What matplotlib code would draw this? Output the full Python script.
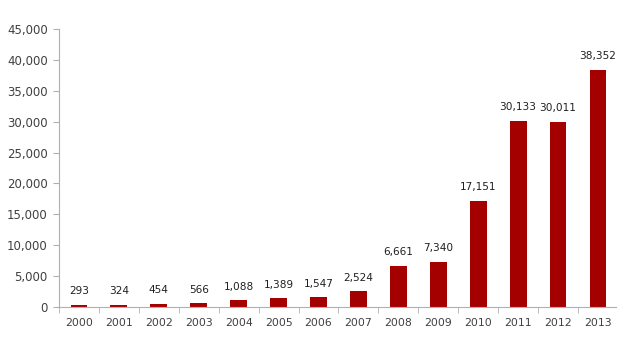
import matplotlib
matplotlib.use("Agg")
from matplotlib import pyplot as plt
from matplotlib.ticker import FuncFormatter, FixedLocator

years = ["2000", "2001", "2002", "2003", "2004", "2005", "2006",
         "2007", "2008", "2009", "2010", "2011", "2012", "2013"]
values = [293, 324, 454, 566, 1088, 1389, 1547,
          2524, 6661, 7340, 17151, 30133, 30011, 38352]

bar_color = "#a50000"
axis_color = "#b0b0b0"
text_color = "#404040"

fig = plt.figure(figsize=(6.17, 3.38), dpi=100)
ax = fig.add_axes([0.0956, 0.092, 0.906, 0.822])

x = list(range(len(years)))
ax.bar(x, values, width=0.42, color=bar_color, zorder=2)

for xi, v in zip(x, values):
    ax.text(xi, v + 1400, f"{v:,}", ha="center", va="bottom",
            fontsize=7.6, color="#202020")

ax.set_xlim(-0.5, len(years) - 0.5)
ax.set_ylim(0, 45000)
ax.set_yticks(range(0, 45001, 5000))
ax.yaxis.set_major_formatter(FuncFormatter(lambda v, p: f"{int(v):,}"))

ax.set_xticks(x)
ax.set_xticklabels(years)
ax.xaxis.set_minor_locator(FixedLocator([i - 0.5 for i in range(len(years) + 1)]))
ax.tick_params(axis="x", which="major", length=0, pad=8, labelsize=7.8, labelcolor=text_color)
ax.tick_params(axis="x", which="minor", length=4, color=axis_color, direction="out")
ax.tick_params(axis="y", length=4, color=axis_color, labelsize=8.5, labelcolor=text_color, pad=4)

for side in ["top", "right"]:
    ax.spines[side].set_visible(False)
ax.spines["left"].set_color(axis_color)
ax.spines["bottom"].set_color(axis_color)

fig.savefig("out.png", dpi=100)
